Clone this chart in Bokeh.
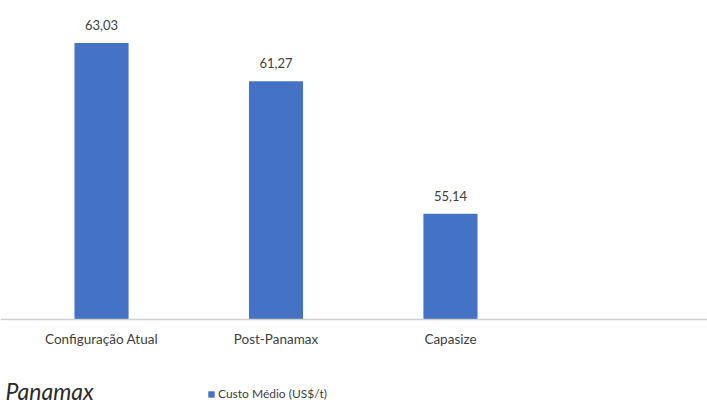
from bokeh.plotting import figure
from bokeh.models import Range1d, Label, Legend, LegendItem, ColumnDataSource, Span
from bokeh.core.properties import value
from bokeh.embed import file_html
from bokeh.resources import INLINE

categories = ["Configuração Atual", "Post-Panamax", "Capasize"]
custo_medio = [63.03, 61.27, 55.14]
value_labels = ["63,03", "61,27", "55,14"]
series_name = "Custo Médio (US$/t)"
subtitle = "Panamax"

BASE = 50.25
xs = list(range(len(categories)))
src = ColumnDataSource(dict(x=xs, top=custo_medio, lbl=value_labels,
                            cat=categories, base=[BASE] * len(xs)))

p = figure(width=707, height=405, output_backend="svg", toolbar_location=None,
           x_range=Range1d(-0.579, 3.473), y_range=Range1d(46.27, 65.0),
           min_border_left=0, min_border_right=0, min_border_top=0, min_border_bottom=0)
p.outline_line_color = None
p.background_fill_color = "white"
p.border_fill_color = "white"
p.xgrid.visible = False
p.ygrid.visible = False
p.yaxis.visible = False
p.xaxis.visible = False

r = p.vbar(x="x", top="top", bottom=BASE, width=0.31, source=src,
           fill_color="#4472C4", line_color=None)
p.add_layout(Span(location=BASE, dimension="width", line_color="#d0d0d0", line_width=1.5))

p.text(x="x", y="top", text="lbl", source=src, text_align="center", text_baseline="bottom",
       y_offset=-13, text_font=value("Lato"), text_font_size="13px", text_color="#404040")
p.text(x="x", y="base", text="cat", source=src, text_align="center", text_baseline="top",
       y_offset=12, text_font=value("Lato"), text_font_size="13.5px", text_color="#404040")

p.add_layout(Label(x=5, y=15, x_units="screen", y_units="screen", text=subtitle,
                   text_font="Lato", text_font_style="italic", text_font_size="23px",
                   text_color="#2a2a2a", text_baseline="middle"))

legend = Legend(items=[LegendItem(label=series_name, renderers=[r])],
                location=(207, 4), orientation="horizontal",
                label_text_font="Lato", label_text_font_size="12px", label_text_color="#404040",
                glyph_width=8, glyph_height=8, label_standoff=3, padding=0, margin=0,
                border_line_color=None, background_fill_alpha=0)
p.add_layout(legend)

open("out.html", "w").write(file_html(p, INLINE))
